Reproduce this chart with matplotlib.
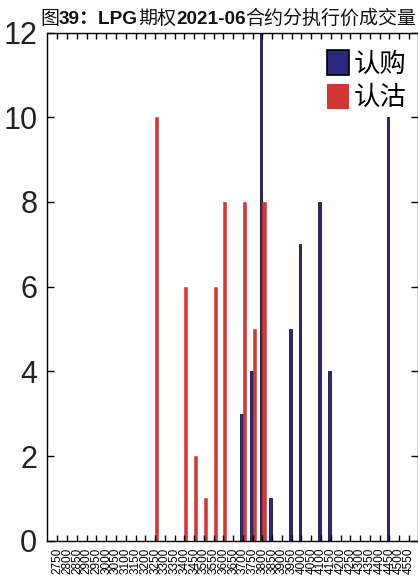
import matplotlib
matplotlib.use('Agg')
import matplotlib.pyplot as plt
import matplotlib.patches as mpatches
import numpy as np

# 执行价
strikes = [2750, 2800, 2850, 2900, 2950, 3000, 3050, 3100, 3150, 3200,
           3250, 3300, 3350, 3400, 3450, 3500, 3550, 3600, 3650, 3700,
           3750, 3800, 3850, 3900, 3950, 4000, 4050, 4100, 4150, 4200,
           4250, 4300, 4350, 4400, 4450, 4500, 4550]
# 认购成交量
call_vol = [0, 0, 0, 0, 0, 0, 0, 0, 0, 0,
            0, 0, 0, 0, 0, 0, 0, 0, 0, 3,
            4, 12, 1, 0, 5, 7, 0, 8, 4, 0,
            0, 0, 0, 0, 10, 0, 0]
# 认沽成交量
put_vol = [0, 0, 0, 0, 0, 0, 0, 0, 0, 0,
           10, 0, 0, 6, 2, 1, 6, 8, 0, 8,
           5, 8, 0, 0, 0, 0, 0, 0, 0, 0,
           0, 0, 0, 0, 0, 0, 0]
tick_labels = [str(s) for s in strikes]
yticks = [0, 2, 4, 6, 8, 10, 12]

call_color = '#2B2882'
put_color = '#D43636'
cjk = ['Liberation Sans', 'Noto Sans CJK SC', 'DejaVu Sans']
plt.rcParams['font.family'] = cjk

W, H = 418, 580
fig = plt.figure(figsize=(W / 100, H / 100), dpi=100)
ax = fig.add_axes([47 / W, 1 - 540.7 / H, 371 / W, (540.7 - 32.6) / H])

x = np.arange(len(strikes))
ax.bar(x - 0.14, call_vol, width=0.28, color=call_color,
       edgecolor='#15153a', linewidth=0.6)
ax.bar(x + 0.16, put_vol, width=0.32, color=put_color,
       edgecolor=put_color, linewidth=0.4)

ax.set_xlim(-1.07, 36.94)
ax.set_ylim(0, 12)
ax.set_xticks(x)
ax.set_xticklabels(tick_labels, rotation=90, fontsize=8.5, family='Liberation Sans')
ax.set_yticks(yticks)
ax.set_yticklabels([str(v) for v in yticks], fontsize=22,
                   family='Liberation Sans', color='#222222')
ax.tick_params(direction='in', top=True, right=True, length=4, width=1)
ax.tick_params(axis='y', length=5, pad=7)
ax.tick_params(axis='x', pad=5)
for s in ax.spines.values():
    s.set_linewidth(1)
    s.set_color('black')

# 图例
handles = [mpatches.Patch(facecolor=call_color, edgecolor='black', linewidth=1.2, label='认购'),
           mpatches.Patch(facecolor=put_color, edgecolor='none', label='认沽')]
ax.legend(handles=handles, loc='upper right', frameon=False,
          bbox_to_anchor=(406 / W, 1 - 50 / H), bbox_transform=fig.transFigure,
          prop={'family': cjk, 'size': 19}, handlelength=0.83, handleheight=1.1,
          handletextpad=0.15, labelspacing=0.27, borderpad=0, borderaxespad=0)

# 标题（粗细混排）
parts = [('图', 'normal'), ('39：LPG', 'bold'), ('期权', 'normal'),
         ('2021-06', 'bold'), ('合约分执行价成交量', 'normal')]
renderer = fig.canvas.get_renderer()
xpos = 40
for txt, wt in parts:
    t = fig.text(xpos / W, 1 - 24 / H, txt, fontsize=13.7, fontweight=wt,
                 family=cjk, va='baseline', ha='left', color='#111111')
    bb = t.get_window_extent(renderer=renderer)
    xpos += bb.width

fig.savefig('out.png', dpi=100)
